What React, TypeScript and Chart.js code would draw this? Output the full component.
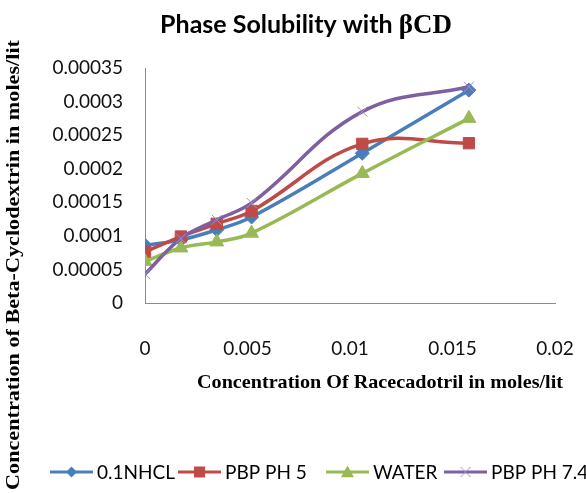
import React, { useEffect, useRef } from "react";
import { Chart, registerables } from "chart.js";

Chart.register(...registerables);

// Racecadotril concentration (moles/lit)
const drugConc = [0, 0.00175, 0.0035, 0.0052, 0.0106, 0.0158];

// Beta-cyclodextrin concentration (moles/lit) per medium
const hcl01N = [0.000086, 0.000094, 0.000109, 0.000128, 0.000223, 0.000317];
const pbpPh5 = [0.000076, 0.000099, 0.000118, 0.000137, 0.000237, 0.000238];
const water = [0.000062, 0.000082, 0.000091, 0.000104, 0.000193, 0.000275];
const pbpPh74 = [0.000043, 0.000096, 0.000124, 0.000149, 0.000285, 0.000322];

const seriesNames = ["0.1NHCL", "PBP PH 5", "WATER", "PBP PH 7.4"];
const seriesColors = ["#4A7EBB", "#BE4B48", "#98B954", "#7D60A0"];
const seriesMarkers = ["rectRot", "rect", "triangle", "crossRot"];

const xTicks = [0, 0.005, 0.01, 0.015, 0.02];
const yTicks = [0, 0.00005, 0.0001, 0.00015, 0.0002, 0.00025, 0.0003, 0.00035];

const chartTitle = "Phase Solubility with ";
const chartTitleSymbol = "βCD";
const xTitle = "Concentration Of Racecadotril in moles/lit";
const yTitle = "Concentration of Beta-Cyclodextrin in moles/lit";

const SANS = "Lato, 'Open Sans', sans-serif";
const SERIF = "'Liberation Serif', 'DejaVu Serif', serif";
const CROSS_COLOR = "#A58FC4";

const fmt = (v: number) => String(+v.toFixed(6));

// Draws text centred at (x, y), stretched horizontally to span `span` pixels
function fillTextSpan(ctx: CanvasRenderingContext2D, text: string, x: number, y: number, span: number) {
  const w = ctx.measureText(text).width;
  const k = span / w;
  ctx.save();
  ctx.translate(x, y);
  ctx.scale(k, 1);
  ctx.textAlign = "center";
  ctx.fillText(text, 0, 0);
  ctx.restore();
}

function drawMarker(ctx: CanvasRenderingContext2D, style: string, x: number, y: number, color: string) {
  ctx.save();
  ctx.fillStyle = color;
  ctx.strokeStyle = color;
  ctx.beginPath();
  if (style === "rectRot") {
    const r = 5.5;
    ctx.moveTo(x, y - r);
    ctx.lineTo(x + r, y);
    ctx.lineTo(x, y + r);
    ctx.lineTo(x - r, y);
    ctx.closePath();
    ctx.fill();
  } else if (style === "rect") {
    const s = 5.5;
    ctx.rect(x - s, y - s, 2 * s, 2 * s);
    ctx.fill();
  } else if (style === "triangle") {
    const r = 6.5;
    ctx.moveTo(x, y - r);
    ctx.lineTo(x + r, y + r * 0.8);
    ctx.lineTo(x - r, y + r * 0.8);
    ctx.closePath();
    ctx.fill();
  } else {
    const r = 5;
    ctx.lineWidth = 1;
    ctx.strokeStyle = CROSS_COLOR;
    ctx.moveTo(x - r, y - r);
    ctx.lineTo(x + r, y + r);
    ctx.moveTo(x + r, y - r);
    ctx.lineTo(x - r, y + r);
    ctx.stroke();
  }
  ctx.restore();
}

// Titles and legend drawn around the plot area
const decorations = {
  id: "decorations",
  afterDraw(chart: Chart) {
    const ctx = chart.ctx;
    ctx.save();
    ctx.fillStyle = "#000";

    // chart title
    ctx.textBaseline = "alphabetic";
    ctx.font = `bold 25px ${SANS}`;
    const w1 = ctx.measureText(chartTitle).width;
    ctx.font = `bold 27px ${SERIF}`;
    const w2 = ctx.measureText(chartTitleSymbol).width;
    const tx = 306 - (w1 + w2) / 2;
    ctx.textAlign = "left";
    ctx.font = `bold 25px ${SANS}`;
    ctx.fillText(chartTitle, tx, 33);
    ctx.font = `bold 27px ${SERIF}`;
    ctx.fillText(chartTitleSymbol, tx + w1, 33);

    // x axis title
    ctx.font = `bold 19px ${SERIF}`;
    fillTextSpan(ctx, xTitle, 380, 388, 366);

    // y axis title
    ctx.save();
    ctx.translate(14, 265);
    ctx.rotate(-Math.PI / 2);
    ctx.font = `bold 19px ${SERIF}`;
    ctx.textBaseline = "middle";
    fillTextSpan(ctx, yTitle, 0, 0, 450);
    ctx.restore();

    // legend
    const textX = [97, 225, 373, 491];
    const ly = 472;
    ctx.font = `19px ${SANS}`;
    ctx.textAlign = "left";
    ctx.textBaseline = "middle";
    seriesNames.forEach((name, i) => {
      const x0 = textX[i] - 47;
      const x1 = textX[i] - 4;
      ctx.strokeStyle = seriesColors[i];
      ctx.lineWidth = 3;
      ctx.beginPath();
      ctx.moveTo(x0, ly);
      ctx.lineTo(x1, ly);
      ctx.stroke();
      drawMarker(ctx, seriesMarkers[i], (x0 + x1) / 2, ly, seriesColors[i]);
      ctx.fillStyle = "#000";
      ctx.fillText(name, textX[i], ly + 1);
    });
    ctx.restore();
  },
};

export default function App() {
  const canvasRef = useRef<HTMLCanvasElement | null>(null);

  useEffect(() => {
    const canvas = canvasRef.current;
    if (!canvas) return;
    const seriesValues = [hcl01N, pbpPh5, water, pbpPh74];
    const datasets = seriesValues.map((vals, i) => {
      const isCross = seriesMarkers[i] === "crossRot";
      return {
        label: seriesNames[i],
        data: vals.map((y, j) => ({ x: drugConc[j], y })),
        borderColor: seriesColors[i],
        backgroundColor: isCross ? CROSS_COLOR : seriesColors[i],
        pointBackgroundColor: seriesColors[i],
        pointBorderColor: isCross ? CROSS_COLOR : seriesColors[i],
        pointBorderWidth: 1,
        borderWidth: 3.5,
        pointStyle: seriesMarkers[i],
        pointRadius: seriesMarkers[i] === "rect" ? 8 : seriesMarkers[i] === "triangle" ? 8 : 7,
        tension: 0.4,
        fill: false,
        order: 3 - i,
      };
    });

    const chart = new Chart(canvas, {
      type: "line",
      data: { datasets },
      options: {
        responsive: false,
        animation: false,
        layout: { padding: { left: 0, top: 68, right: 31, bottom: 0 } },
        plugins: {
          legend: { display: false },
          title: { display: false },
          tooltip: { enabled: false },
        },
        scales: {
          x: {
            type: "linear",
            min: xTicks[0],
            max: xTicks[xTicks.length - 1],
            afterBuildTicks: (scale: any) => {
              scale.ticks = xTicks.map((v) => ({ value: v }));
            },
            afterFit: (scale: any) => {
              scale.height = 190;
              scale.paddingLeft = 0;
              scale.paddingRight = 0;
            },
            grid: { display: false, drawTicks: false },
            border: { display: true, color: "#8C8C8C", width: 1 },
            ticks: {
              padding: 34,
              color: "#111",
              font: { family: SANS, size: 19 },
              callback: (v: any) => fmt(Number(v)),
              maxRotation: 0,
            },
          },
          y: {
            type: "linear",
            min: yTicks[0],
            max: yTicks[yTicks.length - 1],
            afterBuildTicks: (scale: any) => {
              scale.ticks = yTicks.map((v) => ({ value: v }));
            },
            afterFit: (scale: any) => {
              scale.width = 145;
              scale.paddingTop = 0;
              scale.paddingBottom = 0;
            },
            grid: { display: false, drawTicks: false },
            border: { display: true, color: "#8C8C8C", width: 1 },
            ticks: {
              padding: 22,
              color: "#111",
              font: { family: SANS, size: 19 },
              callback: (v: any) => fmt(Number(v)),
            },
          },
        },
      },
      plugins: [decorations],
    });

    return () => chart.destroy();
  }, []);

  return (
    <div style={{ position: "absolute", left: 0, top: 0, width: 586, height: 493, background: "#fff" }}>
      <canvas ref={canvasRef} width={586} height={493} style={{ width: 586, height: 493 }} />
    </div>
  );
}
